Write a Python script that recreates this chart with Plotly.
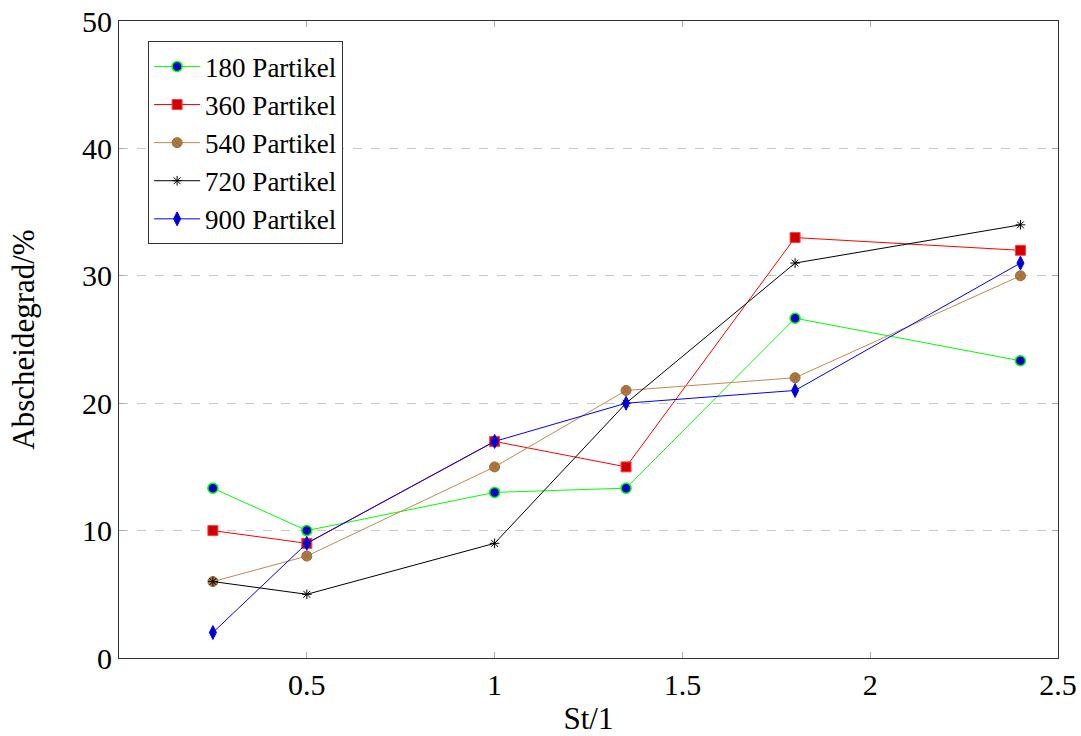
import plotly.graph_objects as go

x_vals = [0.25, 0.5, 1.0, 1.35, 1.8, 2.4]
s180 = [13.33, 10, 13, 13.33, 26.67, 23.33]
s360 = [10, 9, 17, 15, 33, 32]
s540 = [6, 8, 15, 21, 22, 30]
s720 = [6, 5, 9, 20, 31, 34]
s900 = [2, 9, 17, 20, 21, 31]
names = ["180 Partikel", "360 Partikel", "540 Partikel", "720 Partikel", "900 Partikel"]
x_ticks = [0.5, 1, 1.5, 2, 2.5]
x_ticktext = ["0.5", "1", "1.5", "2", "2.5"]
y_ticks = [0, 10, 20, 30, 40, 50]

FONT = "Liberation Serif"
FS = 30

fig = go.Figure()
fig.add_trace(go.Scatter(x=x_vals, y=s180, name=names[0], mode="lines+markers",
                         line=dict(color="#00ff00", width=1),
                         marker=dict(symbol="circle", size=10, color="#0000cc",
                                     line=dict(color="#00ff00", width=1.5))))
fig.add_trace(go.Scatter(x=x_vals, y=s360, name=names[1], mode="lines+markers",
                         line=dict(color="#ff0000", width=1),
                         marker=dict(symbol="square", size=10, color="#d00000",
                                     line=dict(color="#ff4040", width=1))))
fig.add_trace(go.Scatter(x=x_vals, y=s540, name=names[2], mode="lines+markers",
                         line=dict(color="#c08a50", width=1),
                         marker=dict(symbol="circle-x", size=10, color="#b07840",
                                     line=dict(color="#9a6a38", width=1))))
fig.add_trace(go.Scatter(x=x_vals, y=s720, name=names[3], mode="lines+markers",
                         line=dict(color="#000000", width=1),
                         marker=dict(symbol="asterisk-open", size=8, color="#000000",
                                     line=dict(color="#000000", width=1))))
fig.add_trace(go.Scatter(x=x_vals, y=s900, name=names[4], mode="lines+markers",
                         line=dict(color="#0000ff", width=1),
                         marker=dict(symbol="diamond-tall", size=10, color="#0000cc",
                                     line=dict(color="#0000ff", width=1))))

fig.update_layout(
    width=1081, height=736,
    margin=dict(l=119, r=23, t=21, b=78, autoexpand=False),
    paper_bgcolor="white", plot_bgcolor="white",
    font=dict(family=FONT, size=FS, color="black"),
    legend=dict(x=0.031, y=0.968, xanchor="left", yanchor="top",
                bordercolor="#333333", borderwidth=1, bgcolor="white",
                font=dict(family=FONT, size=27), tracegroupgap=0,
                itemwidth=46, entrywidth=210),
    xaxis=dict(range=[0, 2.5], tickvals=x_ticks, ticktext=x_ticktext,
               tickfont=dict(family=FONT, size=FS),
               showline=True, linecolor="#333333", linewidth=1, mirror="ticks",
               ticks="inside", ticklen=6, tickcolor="#aaaaaa", showgrid=False,
               zeroline=False, automargin=False,
               title=dict(text="St/1", standoff=10, font=dict(family=FONT, size=FS + 1))),
    yaxis=dict(range=[0, 50], tickvals=y_ticks,
               tickfont=dict(family=FONT, size=FS),
               showline=True, linecolor="#333333", linewidth=1, mirror="ticks",
               ticks="inside", ticklen=6, tickcolor="#aaaaaa",
               showgrid=True, gridcolor="#c8c8c8", griddash="dash", gridwidth=1,
               zeroline=False, automargin=False,
               title=dict(text="Abscheidegrad/%", standoff=38,
                          font=dict(family=FONT, size=FS + 1))),
)

fig.write_html("out.html", config={"displayModeBar": False},
               post_script="document.body.style.margin='0';document.body.style.padding='0';")
